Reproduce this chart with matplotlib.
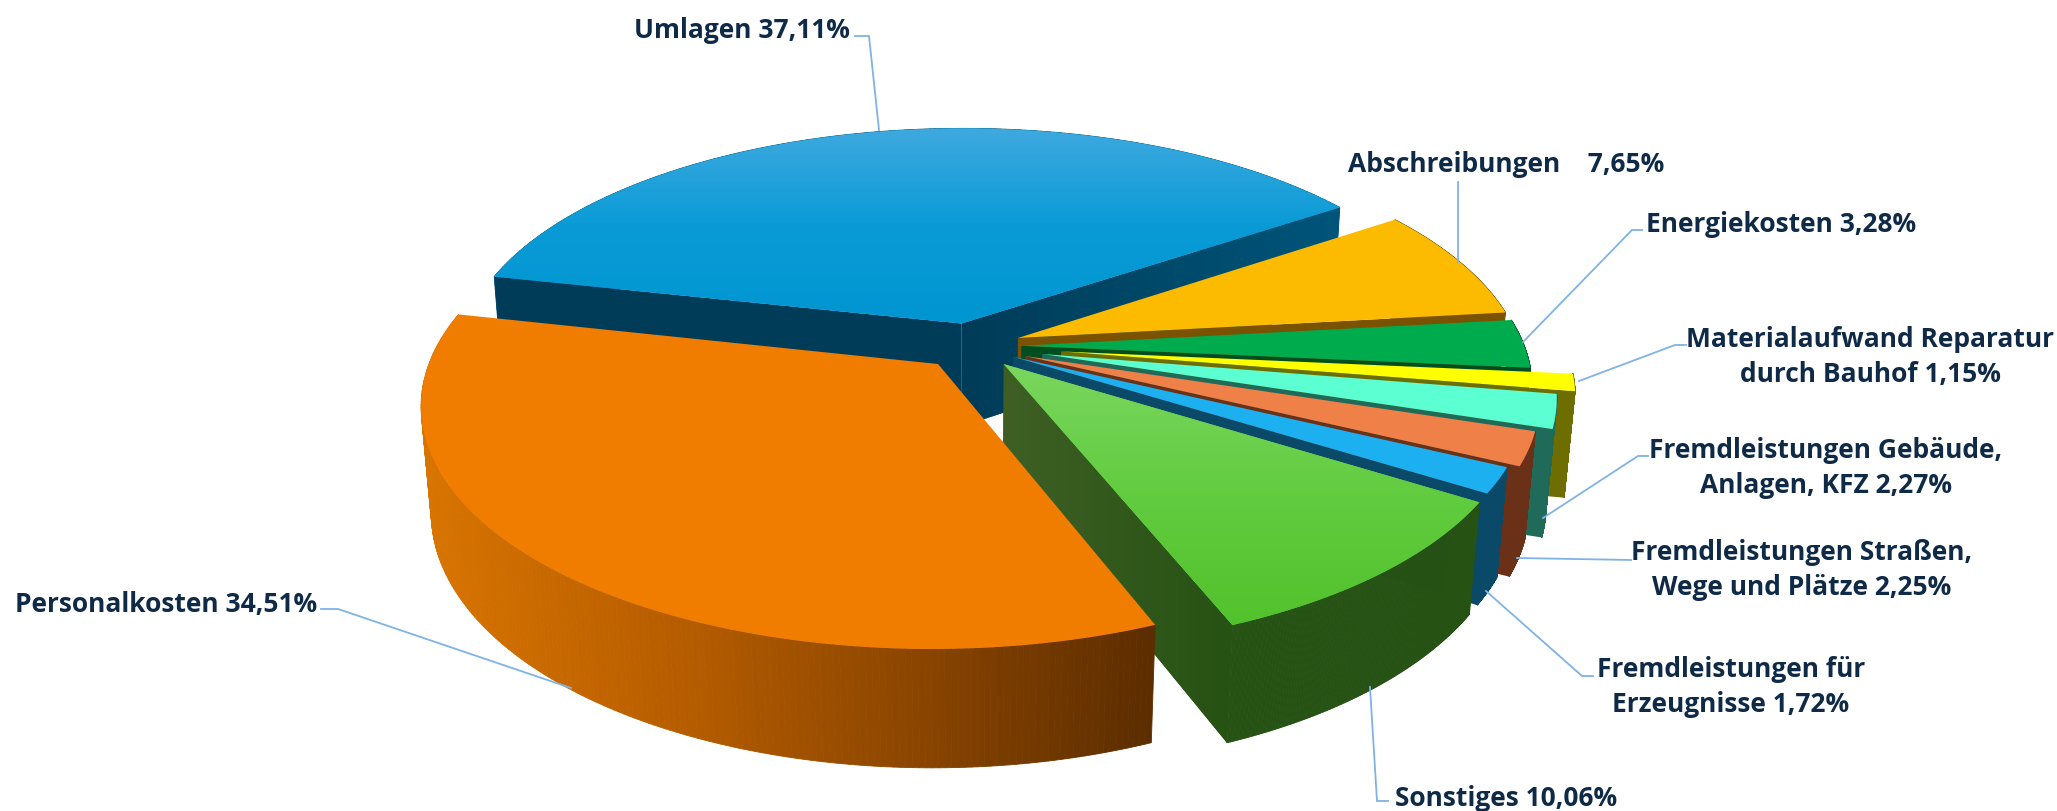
import numpy as np
import matplotlib
matplotlib.use("Agg")
import matplotlib.pyplot as plt
from matplotlib.collections import PolyCollection
from matplotlib.colors import LinearSegmentedColormap
from matplotlib.path import Path
from matplotlib.patches import Polygon

# Slices clockwise, starting at the blue one
names = ["Umlagen", "Abschreibungen", "Energiekosten", "Materialaufwand", "Gebaeude",
         "Strassen", "Erzeugnisse", "Sonstiges", "Personalkosten"]
values = [37.11, 7.65, 3.28, 1.15, 2.27, 2.25, 1.72, 10.06, 34.51]
explode = [0.10, 0.10, 0.10, 0.18, 0.145, 0.115, 0.095, 0.10, 0.10]
top_colors = [["#3FA9DF", "#0A9BD6", "#0096D2"], ["#FDBB00"], ["#00AB4E"], ["#FFFF00"], ["#5CFFD2"],
              ["#EE8048"], ["#1CB0F0"], ["#7AD65E", "#62CC40", "#52C22C"], ["#F07C00"]]
wall_colors = [["#00557A"], ["#7A5200"], ["#004D20"], ["#6E6E00"], ["#206A5A"],
               ["#6A3018"], ["#0A4A68"], ["#265214"], ["#D87400", "#B85E00", "#8C4600", "#5C2D00"]]
cut_colors = [["#003C58", "#00557A"], ["#7A5200"], ["#004D20"], ["#6E6E00"], ["#206A5A"],
              ["#6A3018"], ["#0A4A68"], ["#3F5F25", "#265214"], ["#8C4600"]]

# Label text and position
label_texts = ["Umlagen 37,11%", "Abschreibungen    7,65%", "Energiekosten 3,28%",
               "Materialaufwand Reparatur\ndurch Bauhof 1,15%", "Fremdleistungen Gebäude,\nAnlagen, KFZ 2,27%",
               "Fremdleistungen Straßen,\nWege und Plätze 2,25%", "Fremdleistungen für\nErzeugnisse 1,72%",
               "Sonstiges 10,06%", "Personalkosten 34,51%"]
label_x = [742, 1506, 1781, 1870, 1826, 1802, 1731, 1506, 166]
label_y = [30, 164, 224, 357, 468, 570, 687, 799, 605]
leader_x = [[855, 869, 879], [1458, 1458], [1642, 1632, 1523], [1686, 1675, 1579], [1648, 1638, 1543],
            [1631, 1517], [1593, 1582, 1486], [1388, 1377, 1370], [321, 338, 571]]
leader_y = [[37, 37, 131], [183, 263], [231, 231, 343], [346, 346, 382], [457, 457, 519],
            [561, 559], [677, 677, 592], [802, 802, 688], [610, 610, 689]]

# Projection of the tilted disc
cx, cy = 971, 347
rx, ry = 503, 233
persp = 0.16
depth = 106
persp_z = 0.018
start_angle = -77.6


def project(u, v, z):
    w = 1 - persp * v + persp_z * z
    return cx + rx * u / w, cy + (ry * v + depth * z) / w


def gradient_fill(ax, poly, colors, zorder, vertical=False):
    poly = np.asarray(poly)
    ax.add_patch(Polygon(poly, closed=True, fc=colors[len(colors) // 2], ec="none", zorder=zorder))
    if len(colors) == 1:
        return
    cmap = LinearSegmentedColormap.from_list("g", colors)
    grad = np.linspace(0, 1, 256)
    grad = grad.reshape(-1, 1) if vertical else grad.reshape(1, -1)
    x0, x1, y0, y1 = poly[:, 0].min(), poly[:, 0].max(), poly[:, 1].min(), poly[:, 1].max()
    im = ax.imshow(grad, cmap=cmap, extent=(x0, x1, y1, y0), aspect="auto", zorder=zorder + 0.01,
                   interpolation="bilinear")
    im.set_clip_path(Path(np.vstack([poly, poly[0]])), ax.transData)


def draw_wall(ax, top, bottom, colors, zorder):
    # One quad per arc step, the arcs cross at the left so a single polygon would miss the silhouette
    quads = [[top[j], top[j + 1], bottom[j + 1], bottom[j]] for j in range(len(top) - 1)]
    xs = (top[:-1, 0] + top[1:, 0]) / 2
    span = max(xs.max() - xs.min(), 1)
    cmap = LinearSegmentedColormap.from_list("w", colors if len(colors) > 1 else colors * 2)
    shades = cmap((xs - xs.min()) / span)
    ax.add_collection(PolyCollection(quads, facecolors=shades, edgecolors=shades, linewidths=0.6, zorder=zorder))


def cut_visible(apex, corner, inner):
    edge = corner - apex
    side_in = edge[0] * (inner - apex)[1] - edge[1] * (inner - apex)[0]
    side_down = edge[0]
    return side_in * side_down < 0


fig = plt.figure(figsize=(20.57, 8.12), dpi=100)
ax = fig.add_axes([0, 0, 1, 1])

angles = start_angle + np.concatenate([[0], np.cumsum(values)]) / np.sum(values) * 360

# Back to front, so each slice covers the walls of the one before
for i in range(len(values)):
    a0, a1 = np.radians(angles[i]), np.radians(angles[i + 1])
    mid = (a0 + a1) / 2
    off_u, off_v = explode[i] * np.sin(mid), -explode[i] * np.cos(mid)
    th = np.linspace(a0, a1, 200)
    u, v = np.sin(th) + off_u, -np.cos(th) + off_v

    top = np.column_stack(project(u, v, 0))
    bottom = np.column_stack(project(u, v, 1))
    apex_top = np.array(project(off_u, off_v, 0))
    apex_bot = np.array(project(off_u, off_v, 1))
    z = 10 + i * 2

    draw_wall(ax, top, bottom, wall_colors[i], z)
    for corner_t, corner_b in [(top[0], bottom[0]), (top[-1], bottom[-1])]:
        if cut_visible(apex_top, corner_t, top[len(top) // 2]):
            face = np.array([apex_top, corner_t, corner_b, apex_bot])
            colors = cut_colors[i] if corner_t[0] > apex_top[0] or len(cut_colors[i]) == 1 else cut_colors[i][:1]
            gradient_fill(ax, face, colors, z + 0.2)
    gradient_fill(ax, np.vstack([apex_top, top]), top_colors[i], z + 0.5, vertical=True)

for lx, ly in zip(leader_x, leader_y):
    ax.plot(lx, ly, color="#7FB3E6", lw=1.3, zorder=40, solid_joinstyle="miter")

for text, x, y in zip(label_texts, label_x, label_y):
    ax.text(x, y, text, ha="center", va="center", fontsize=19, fontweight="bold", family="Open Sans",
            color="#0F2A47", linespacing=1.36, zorder=50)

ax.set_xlim(0, 2057)
ax.set_ylim(812, 0)
ax.axis("off")
fig.savefig("out.png", dpi=100, facecolor="white")
